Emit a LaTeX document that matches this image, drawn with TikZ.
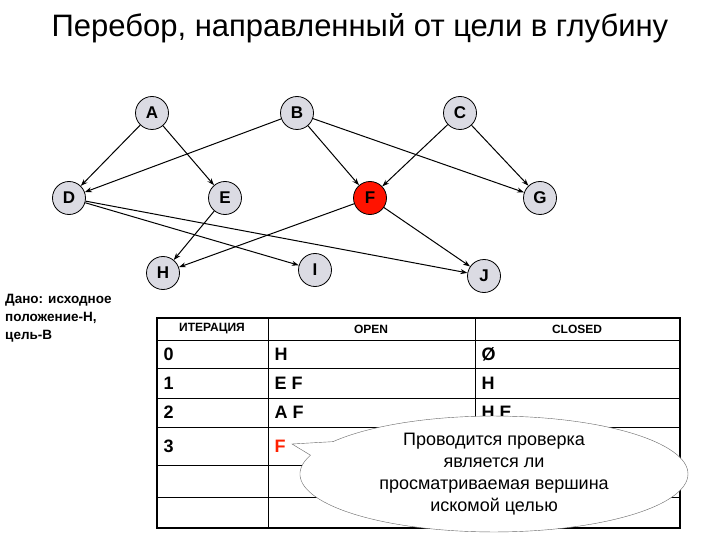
\documentclass[tikz,border=0pt]{standalone}
\usepackage{fontspec}
\setmainfont{Liberation Sans}
\usetikzlibrary{shapes.callouts,arrows.meta}
\begin{document}
\begin{tikzpicture}[x=1pt,y=-1pt,
  vtx/.style={circle,draw=black,line width=0.8pt,fill=blue!12!gray!25,minimum size=33pt,inner sep=0pt,font=\bfseries\fontsize{17}{17}\selectfont},
  goal/.style={vtx,fill=red!85!orange},
  edge/.style={-{Stealth[length=7pt,width=5pt]},line width=1pt},
  cell/.style={anchor=west,font=\bfseries\fontsize{18}{18}\selectfont},
  hdr/.style={font=\bfseries\fontsize{12}{12}\selectfont}]
\useasboundingbox[fill=white] (0,0) rectangle (720,540);
\node (title) at (360,28) {\fontsize{31}{31}\selectfont Перебор, направленный от цели в глубину};
\node[vtx] (A) at (152,113) {A};
\node[vtx] (B) at (297,113) {B};
\node[vtx] (C) at (460,113) {C};
\node[vtx] (D) at (69,198) {D};
\node[vtx] (E) at (225,198) {E};
\node[goal] (F) at (370,198) {F};
\node[vtx] (G) at (540,198) {G};
\node[vtx] (H) at (163,273) {H};
\node[vtx] (I) at (315,270) {I};
\node[vtx] (J) at (484,276) {J};
\foreach \a/\b in {A/D,A/E,B/D,B/F,B/G,C/F,C/G,D/I,D/J,E/H,F/H,F/J}
  \draw[edge] (\a) -- (\b);
\node[anchor=north west,align=left,font=\bfseries\fontsize{13.5}{18}\selectfont,inner sep=0pt] (given) at (5,294) {Дано: исходное\\положение-Н,\\цель-В};
% table
\draw[line width=1.6pt] (157,318) rectangle (680,528);
\foreach \y in {340,368,398,427,465,497} \draw[line width=0.8pt] (157,\y) -- (680,\y);
\draw[line width=0.8pt] (268,318) -- (268,528);
\draw[line width=0.8pt] (475,318) -- (475,528);
\node[hdr] (h1) at (212,329) {ИТЕРАЦИЯ};
\node[hdr] (h2) at (371,329) {OPEN};
\node[hdr] (h3) at (577,329) {CLOSED};
\node[cell] (r0a) at (160,354) {0}; \node[cell] (r0b) at (271,354) {H}; \node[cell] (r0c) at (478,354) {Ø};
\node[cell] (r1a) at (160,383) {1}; \node[cell] (r1b) at (271,383) {E F}; \node[cell] (r1c) at (478,383) {H};
\node[cell] (r2a) at (160,412) {2}; \node[cell] (r2b) at (271,412) {A F}; \node[cell] (r2c) at (478,412) {H E};
\node[cell] (r3a) at (160,446) {3}; \node[cell,text=red!75!orange] (r3b) at (271,446) {F};
\coordinate (tip) at (292,444);
\node[ellipse callout,draw=gray!80!black,fill=white,minimum width=388pt,minimum height=112pt,
  callout absolute pointer={(tip)},align=center,inner sep=0pt,font=\fontsize{18}{22}\selectfont] (note) at (494,474)
  {Проводится проверка\\является ли\\просматриваемая вершина\\искомой целью};
\end{tikzpicture}
\end{document}
